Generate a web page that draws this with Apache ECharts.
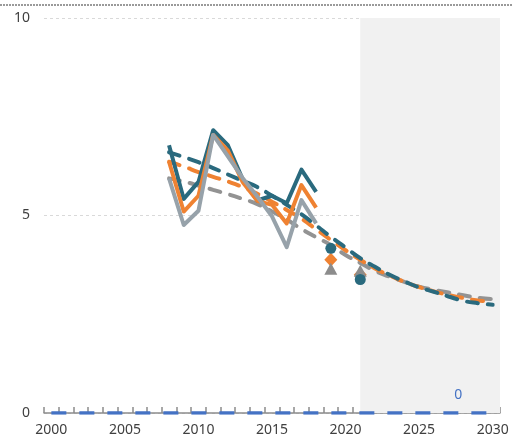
<!DOCTYPE html>
<html>
<head>
<meta charset="utf-8">
<style>html,body{margin:0;padding:0;background:#fff;}#c{width:513px;height:442px;}</style>
<script src="https://cdn.jsdelivr.net/npm/echarts@6/dist/echarts.min.js"></script>
</head>
<body>
<div id="c"></div>
<script>
var years = [];
for (var y = 2000; y <= 2030; y++) years.push(String(y));

// historical solid lines (2008-2018), nulls elsewhere
var tealSolid   = [null,null,null,null,null,null,null,null,6.78,5.42,5.85,7.16,6.78,5.92,5.38,5.5,5.31,6.16,5.6,null,null,null,null,null,null,null,null,null,null,null,null];
var orangeSolid = [null,null,null,null,null,null,null,null,6.36,5.1,5.5,7.04,6.64,5.85,5.37,5.27,4.8,5.77,5.2,null,null,null,null,null,null,null,null,null,null,null,null];
var graySolid   = [null,null,null,null,null,null,null,null,5.94,4.76,5.12,7.04,6.5,5.95,5.48,4.98,4.2,5.39,4.8,null,null,null,null,null,null,null,null,null,null,null,null];

// trend / projection dashed lines (2008-2030)
var tealDash   = [null,null,null,null,null,null,null,null,6.6,6.48,6.35,6.2,6.04,5.88,5.72,5.5,5.27,5.03,4.75,4.46,4.19,3.92,3.7,3.5,3.33,3.18,3.07,2.95,2.84,2.78,2.74];
var orangeDash = [null,null,null,null,null,null,null,null,6.36,6.24,6.1,5.98,5.86,5.72,5.55,5.35,5.14,4.92,4.65,4.38,4.12,3.88,3.66,3.48,3.32,3.19,3.08,2.99,2.91,2.85,2.81];
var grayDash   = [null,null,null,null,null,null,null,null,5.94,5.86,5.76,5.65,5.54,5.42,5.29,5.1,4.9,4.66,4.45,4.25,4.0,3.8,3.6,3.45,3.32,3.2,3.12,3.05,2.98,2.92,2.88];

// single-point markers
var tealPoints   = [['2019', 4.17], ['2021', 3.38]];
var orangePoints = [['2019', 3.88], ['2021', 3.5]];
var grayPoints   = [['2019', 3.65], ['2021', 3.6]];

// zero baseline series
var zeroValues = years.map(function(){ return 0; });
var zeroLabelYear = '2028';

// projection shading range (category index positions)
var shadeFrom = 21, shadeTo = 30.5;

var C_TEAL = '#2a6a7e', C_ORANGE = '#ef8232', C_GRAYS = '#97a2aa', C_GRAYD = '#939393', C_BLUE = '#4472c4';
var FONT = 'Noto Sans';

var chart = echarts.init(document.getElementById('c'), null, {renderer: 'canvas'});

function solid(name, data, color) {
  return {name: name, type: 'line', data: data, symbol: 'none', z: 3,
    lineStyle: {color: color, width: 4, join: 'round'}, connectNulls: false};
}
function dashed(name, data, color) {
  return {name: name, type: 'line', data: data, symbol: 'none', smooth: true, z: 2,
    lineStyle: {color: color, width: 4, type: [11, 10], cap: 'round'}};
}
function points(name, data, color, symbol, size) {
  return {name: name, type: 'scatter', data: data, symbol: symbol, symbolSize: size, z: 4,
    itemStyle: {color: color, opacity: 1}};
}

chart.setOption({
  animation: false,
  textStyle: {fontFamily: FONT},
  grid: {left: 44, right: 13, top: 18, bottom: 29},
  graphic: [{type: 'line', shape: {x1: 0, y1: 5, x2: 513, y2: 5},
    style: {stroke: '#9a9a9a', lineWidth: 2, lineDash: [2, 1]}}],
  xAxis: [{
    type: 'category', data: years, boundaryGap: true,
    axisLine: {lineStyle: {color: '#8c8c8c', width: 1.5}},
    axisTick: {show: true, inside: true, length: 6, interval: 0, lineStyle: {color: '#8c8c8c', width: 1.5}},
    axisLabel: {interval: 4, color: '#404040', fontSize: 14, margin: 10, fontFamily: FONT}
  }, {
    type: 'value', min: -0.5, max: 30.5, show: false
  }],
  yAxis: {
    type: 'value', min: 0, max: 10, interval: 5,
    axisLine: {show: false}, axisTick: {show: false},
    axisLabel: {color: '#404040', fontSize: 14, margin: 14, fontFamily: FONT},
    splitLine: {lineStyle: {color: '#d9d9d9', type: [3, 3], width: 1}}
  },
  series: [
    {type: 'line', xAxisIndex: 1, data: [], z: 1, silent: true,
      markArea: {silent: true, itemStyle: {color: '#f1f1f1'},
        data: [[{xAxis: shadeFrom, yAxis: 0}, {xAxis: shadeTo, yAxis: 10}]]}},
    {name: 'zero', type: 'line', symbol: 'circle', symbolSize: 0.1, showSymbol: true, showAllSymbol: true, z: 2,
      itemStyle: {color: C_BLUE},
      data: zeroValues.map(function(v, i){
        return years[i] === zeroLabelYear ? {value: v, label: {show: true}} : v;
      }),
      lineStyle: {color: C_BLUE, width: 3.5, type: [15, 13]},
      label: {show: false, position: 'top', distance: 11, offset: [-5, 0], color: C_BLUE, fontSize: 14, fontFamily: FONT}},
    dashed('grayDash', grayDash, C_GRAYD),
    dashed('orangeDash', orangeDash, C_ORANGE),
    dashed('tealDash', tealDash, C_TEAL),
    solid('tealSolid', tealSolid, C_TEAL),
    solid('orangeSolid', orangeSolid, C_ORANGE),
    solid('graySolid', graySolid, C_GRAYS),
    points('orangePts', orangePoints, C_ORANGE, 'diamond', [13, 14]),
    points('grayPts', grayPoints, '#8c8c8c', 'triangle', [13, 12]),
    points('tealPts', tealPoints, C_TEAL, 'circle', 11)
  ]
});
</script>
</body>
</html>
